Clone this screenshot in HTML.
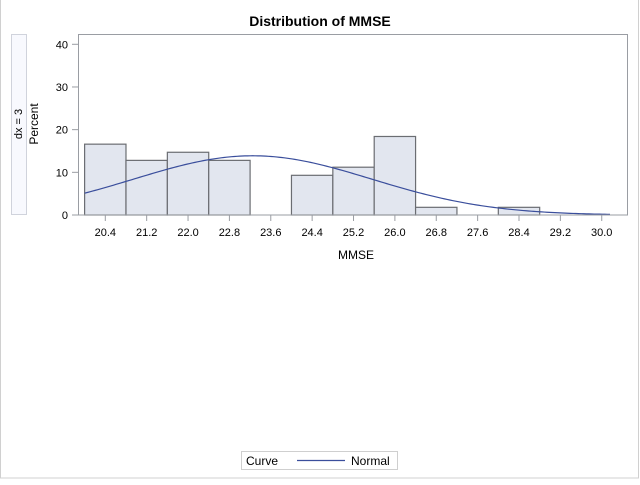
<!DOCTYPE html>
<html><head><meta charset="utf-8"><style>
html,body{margin:0;padding:0;background:#fff;}
svg text{font-family:"Liberation Sans",Arial,sans-serif;}
</style></head><body>
<svg id="chart" width="640" height="480" viewBox="0 0 640 480" xmlns="http://www.w3.org/2000/svg">
<rect x="0.5" y="-1" width="638" height="479" fill="none" stroke="#d0d0d0"/>
<text x="320" y="26" text-anchor="middle" font-size="14" font-weight="bold" fill="#000">Distribution of MMSE</text>
<rect x="11.5" y="34.5" width="15" height="180" fill="#f8f9fe" stroke="#d0d3dc"/>
<text transform="translate(22,124) rotate(-90)" text-anchor="middle" font-size="11">dx = 3</text>
<text transform="translate(38,124) rotate(-90)" text-anchor="middle" font-size="12">Percent</text>
<g id="bars"></g>
<path id="curve" fill="none" stroke="#3a4e9c" stroke-width="1.2"/>
<rect x="78.5" y="34.5" width="549" height="180.5" fill="none" stroke="#9a9da3"/>
<g id="axes"></g>
<text x="356" y="259" text-anchor="middle" font-size="12">MMSE</text>
<g>
<rect x="241.5" y="451.5" width="156" height="18" fill="#fff" stroke="#cfcfcf"/>
<text x="246" y="465" font-size="12">Curve</text>
<line x1="297" y1="460.5" x2="345" y2="460.5" stroke="#3a4e9c" stroke-width="1.2"/>
<text x="351" y="465" font-size="12">Normal</text>
</g>
</svg>
<script>
const categories = [20.4,21.2,22.0,22.8,23.6,24.4,25.2,26.0,26.8,27.6,28.4,29.2,30.0];
const percents = [16.6,12.8,14.7,12.8,0,9.3,11.2,18.4,1.8,0,1.8,0,0];
const yTicks = [0,10,20,30,40];
const xTickLabels = ["20.4","21.2","22.0","22.8","23.6","24.4","25.2","26.0","26.8","27.6","28.4","29.2","30.0"];
const normalMean = [23.25];
const normalSd = [2.3];
const binWidth = 0.8;
const curveRange = [20.0, 30.16];

const NS="http://www.w3.org/2000/svg";
function xs(v){return 105.3+(v-20.4)*(41.37/0.8);}
function ys(v){return 215-(v/40)*(215-44.3);}
const bars=document.getElementById('bars');
categories.forEach((c,i)=>{
  if(percents[i]<=0)return;
  const r=document.createElementNS(NS,'rect');
  const x0=xs(c-binWidth/2),x1=xs(c+binWidth/2);
  r.setAttribute('x',x0);r.setAttribute('y',ys(percents[i]));
  r.setAttribute('width',x1-x0);r.setAttribute('height',ys(0)-ys(percents[i]));
  r.setAttribute('fill','#e2e6ef');r.setAttribute('stroke','#6b6d72');r.setAttribute('stroke-width','1.2');
  
  
  bars.appendChild(r);
});
const mu=normalMean[0],sd=normalSd[0];
let d='';
for(let k=0;k<=200;k++){
  const v=curveRange[0]+(curveRange[1]-curveRange[0])*k/200;
  const p=100*binWidth/(sd*Math.sqrt(2*Math.PI))*Math.exp(-0.5*((v-mu)/sd)**2);
  d+=(k?'L':'M')+xs(v).toFixed(2)+','+ys(p).toFixed(2);
}
document.getElementById('curve').setAttribute('d',d);
const ax=document.getElementById('axes');
yTicks.forEach(t=>{
  const l=document.createElementNS(NS,'line');
  l.setAttribute('x1',72);l.setAttribute('x2',78.5);l.setAttribute('y1',ys(t));l.setAttribute('y2',ys(t));
  l.setAttribute('stroke','#9a9da3');
  
  
  ax.appendChild(l);
  const tx=document.createElementNS(NS,'text');
  tx.setAttribute('x',68);tx.setAttribute('y',ys(t)+4);tx.setAttribute('text-anchor','end');tx.setAttribute('font-size','11');
  tx.textContent=t;
  
  
  ax.appendChild(tx);
});
categories.forEach((c,i)=>{
  const l=document.createElementNS(NS,'line');
  l.setAttribute('x1',xs(c));l.setAttribute('x2',xs(c));l.setAttribute('y1',215);l.setAttribute('y2',221);
  l.setAttribute('stroke','#9a9da3');
  
  
  ax.appendChild(l);
  const tx=document.createElementNS(NS,'text');
  tx.setAttribute('x',xs(c));tx.setAttribute('y',236);tx.setAttribute('text-anchor','middle');tx.setAttribute('font-size','11');
  tx.textContent=xTickLabels[i];
  
  
  ax.appendChild(tx);
});
</script>
</body></html>
